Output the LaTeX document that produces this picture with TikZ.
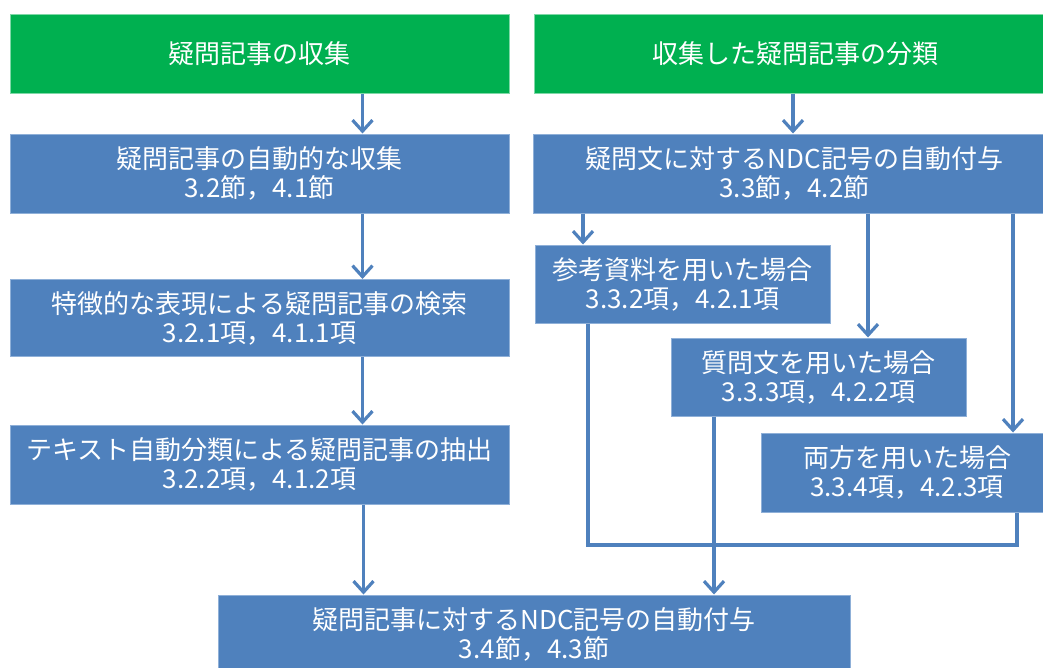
\documentclass[tikz,border=0pt]{standalone}
\usepackage{fontspec}
\setmainfont{Noto Sans CJK JP}
\usetikzlibrary{arrows.meta}
\definecolor{gbox}{HTML}{00B050}
\definecolor{bbox}{HTML}{4F81BD}
\definecolor{bedge}{HTML}{8FB0D8}
\definecolor{gedge}{HTML}{7FD8A7}
\tikzset{
  base/.style={rectangle, inner sep=0pt, text=white, align=center,
    font=\fontsize{26}{29}\selectfont, line width=1pt},
  gstep/.style={base, fill=gbox, draw=gedge},
  bstep/.style={base, fill=bbox, draw=bedge},
  conn/.style={draw=bbox, line width=3.2pt},
  arr/.style={conn, -{Straight Barb[length=11pt,width=20pt]}},
}
\begin{document}
\begin{tikzpicture}[x=1pt,y=-1pt]
\clip (0,0) rectangle (1043,667);
\fill[white] (0,0) rectangle (1043,667);

\node[gstep, minimum width=499pt, minimum height=79pt] (g1) at (259.5,53.5) {疑問記事の収集};
\node[gstep, minimum width=522pt, minimum height=79pt] (g2) at (795,53.5) {収集した疑問記事の分類};

\node[bstep, minimum width=499pt, minimum height=79pt] (b1) at (259.5,173.5) {疑問記事の自動的な収集\\3.2節，4.1節};
\node[bstep, minimum width=499pt, minimum height=77pt] (b3) at (259.5,318) {特徴的な表現による疑問記事の検索\\3.2.1項，4.1.1項};
\node[bstep, minimum width=499pt, minimum height=79pt] (b4) at (259.5,464.5) {テキスト自動分類による疑問記事の抽出\\3.2.2項，4.1.2項};

\node[bstep, minimum width=523pt, minimum height=79pt] (b2) at (794.5,173.5) {疑問文に対するNDC記号の自動付与\\3.3節，4.2節};
\node[bstep, minimum width=295pt, minimum height=78pt] (r1) at (682.5,284) {参考資料を用いた場合\\3.3.2項，4.2.1項};
\node[bstep, minimum width=295pt, minimum height=78pt] (r2) at (818.5,377) {質問文を用いた場合\\3.3.3項，4.2.2項};
\node[bstep, minimum width=292pt, minimum height=79pt] (r3) at (907,472.5) {両方を用いた場合\\3.3.4項，4.2.3項};

\node[bstep, minimum width=632pt, minimum height=79pt] (bot) at (534,634.5) {疑問記事に対するNDC記号の自動付与\\3.4節，4.3節};

\coordinate (xl) at (362.5,0);
\coordinate (xb) at (363.5,0);
\coordinate (xg) at (793,0);
\coordinate (xr1) at (583,0);
\coordinate (xr2) at (868,0);
\coordinate (xr3) at (1013,0);
\coordinate (xo1) at (588,0);
\coordinate (xo2) at (714,0);
\coordinate (xo3) at (1017,0);
\coordinate (yj) at (0,545);

\draw[arr] (g1.south -| xl) -- (b1.north -| xl);
\draw[arr] (b1.south -| xl) -- (b3.north -| xl);
\draw[arr] (b3.south -| xl) -- (b4.north -| xl);
\draw[arr] (b4.south -| xb) -- (bot.north -| xb);

\draw[arr] (g2.south -| xg) -- (b2.north -| xg);
\draw[arr] (b2.south -| xr1) -- (r1.north -| xr1);
\draw[arr] (b2.south -| xr2) -- (r2.north -| xr2);
\draw[arr] (b2.south -| xr3) -- (r3.north -| xr3);

\draw[conn, line join=miter] (r1.south -| xo1) -- (xo1 |- yj) -- (xo3 |- yj) -- (r3.south -| xo3);
\draw[arr] (r2.south -| xo2) -- (bot.north -| xo2);
\end{tikzpicture}
\end{document}
